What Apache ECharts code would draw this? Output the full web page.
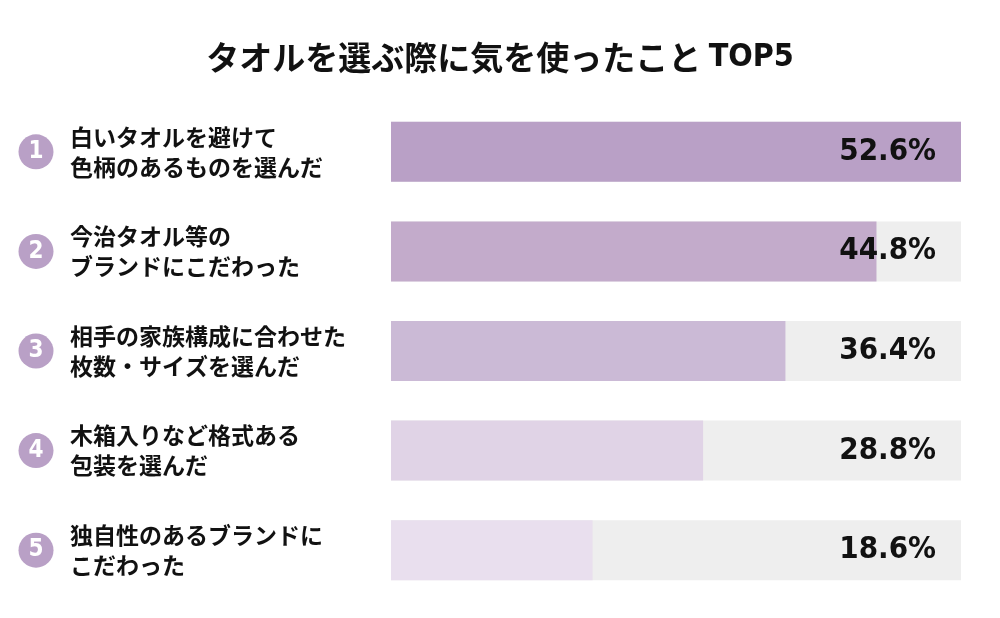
<!DOCTYPE html>
<html>
<head>
<meta charset="utf-8">
<script src="https://cdn.jsdelivr.net/npm/echarts@6/dist/echarts.min.js"></script>
<style>
  html, body { margin: 0; padding: 0; background: #fff; }
  #chart { width: 1000px; height: 618px; }
</style>
</head>
<body>
<div id="chart"></div>
<script>
// データ
const titleText = 'タオルを選ぶ際に気を使ったこと';
const ranks = ['1', '2', '3', '4', '5'];
const items = [
  '白いタオルを避けて\n色柄のあるものを選んだ',
  '今治タオル等の\nブランドにこだわった',
  '相手の家族構成に合わせた\n枚数・サイズを選んだ',
  '木箱入りなど格式ある\n包装を選んだ',
  '独自性のあるブランドに\nこだわった'
];
const values = [52.6, 44.8, 36.4, 28.8, 18.6];
const barColors = ['#b9a0c6', '#c3abcb', '#cbbad6', '#e0d3e6', '#e9dfee'];
const maxValue = 52.6;

const jp = '"Noto Sans CJK JP", sans-serif';
const num = '"DejaVu Sans Condensed", "DejaVu Sans", sans-serif';

const myChart = echarts.init(document.getElementById('chart'));

const option = {
  backgroundColor: '#fff',
  animation: false,
  title: {
    text: titleText + ' {t|TOP5}',
    left: 'center',
    top: 36,
    textStyle: {
      fontFamily: jp,
      fontSize: 33,
      fontWeight: 'bold',
      color: '#111',
      rich: {
        t: { fontFamily: num, fontSize: 32, fontWeight: 'bold', color: '#111' }
      }
    }
  },
  grid: { left: 391, right: 39, top: 102, bottom: 18 },
  xAxis: {
    type: 'value',
    min: 0,
    max: maxValue,
    show: false
  },
  yAxis: [
    {
      type: 'category',
      data: items,
      inverse: true,
      axisLine: { show: false },
      axisTick: { show: false },
      axisLabel: {
        align: 'left',
        margin: 321,
        fontFamily: jp,
        fontSize: 23,
        fontWeight: 'bold',
        lineHeight: 30,
        color: '#111'
      }
    },
    {
      type: 'category',
      data: ranks,
      inverse: true,
      position: 'left',
      axisLine: { show: false },
      axisTick: { show: false },
      axisLabel: {
        align: 'center',
        margin: 355,
        formatter: (v) => '{c|' + v + '}',
        rich: {
          c: {
            width: 35,
            height: 35,
            lineHeight: 35,
            borderRadius: 18,
            backgroundColor: '#b9a0c6',
            color: '#fff',
            align: 'center',
            fontFamily: num,
            fontSize: 24,
            fontWeight: 'bold'
          }
        }
      }
    }
  ],
  series: [
    {
      // グレーの背景バー
      type: 'bar',
      barWidth: 60,
      silent: true,
      data: values.map(() => maxValue),
      itemStyle: { color: '#eeeeee' },
      z: 1
    },
    {
      type: 'bar',
      barWidth: 60,
      barGap: '-100%',
      data: values.map((v, i) => ({ value: v, itemStyle: { color: barColors[i] } })),
      z: 2
    },
    {
      // ラベル用（透明）
      type: 'bar',
      barWidth: 60,
      barGap: '-100%',
      silent: true,
      data: values.map(() => maxValue),
      itemStyle: { color: 'rgba(0,0,0,0)' },
      label: {
        show: true,
        position: 'insideRight',
        distance: 25,
        formatter: (p) => values[p.dataIndex].toFixed(1) + '%',
        fontFamily: num,
        fontSize: 31,
        fontWeight: 'bold',
        color: '#111'
      },
      z: 3
    }
  ]
};

myChart.setOption(option);
</script>
</body>
</html>
